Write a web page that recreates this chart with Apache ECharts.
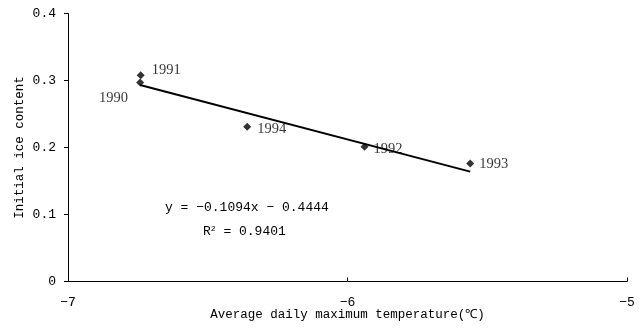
<!DOCTYPE html>
<html><head><meta charset="utf-8">
<script src="https://cdn.jsdelivr.net/npm/echarts@6/dist/echarts.min.js"></script>
<style>html,body{margin:0;padding:0;background:#fff}#c{width:643px;height:328px}</style>
</head><body><div id="c"></div>
<script>
const years = ['1990', '1991', '1994', '1992', '1993'];
const tempX = [-6.742, -6.740, -6.359, -5.939, -5.561];
const iceY = [0.297, 0.308, 0.231, 0.201, 0.176];
const trendX = [-6.742, -5.561];
const trendY = [0.2932, 0.1640];
const xTicks = [-7, -6, -5];
const yTicks = [0, 0.1, 0.2, 0.3, 0.4];
const equationText = 'y = \u22120.1094x \u2212 0.4444';
const r2Text = 'R{sup|2} = 0.9401';

const labelOffsets = {
  '1990': [-45, 16],
  '1991': [7, -5],
  '1994': [6, 2],
  '1992': [5, 2.5],
  '1993': [5, 0.5]
};

const mono = 'Liberation Mono';
const serif = 'Liberation Serif';

const pts = years.map((y, i) => ({
  value: [tempX[i], iceY[i]],
  name: y,
  label: { offset: labelOffsets[y] }
}));

const chart = echarts.init(document.getElementById('c'), null, {renderer: 'canvas'});
chart.setOption({
  animation: false,
  backgroundColor: '#fff',
  grid: { left: 68, right: 16, top: 13.5, bottom: 46.5, containLabel: false, outerBoundsMode: 'none' },
  xAxis: {
    type: 'value', min: -7, max: -5, interval: 1,
    name: 'Average daily maximum temperature(\u2103)',
    nameLocation: 'middle', nameGap: 27, nameMoveOverlap: false,
    nameTextStyle: { fontFamily: mono, fontSize: 12.5, color: '#000' },
    axisLine: { lineStyle: { color: '#000', width: 1 } },
    axisTick: { inside: true, length: 4, lineStyle: { color: '#000' } },
    splitLine: { show: false },
    axisLabel: { fontFamily: mono, fontSize: 13, color: '#000', margin: 15,
      formatter: v => xTicks.includes(v) ? String(v).replace('-', '\u2212') : '' }
  },
  yAxis: {
    type: 'value', min: 0, max: 0.4, interval: 0.1,
    name: 'Initial ice content',
    nameLocation: 'middle', nameGap: 42, nameRotate: 90, nameMoveOverlap: false,
    nameTextStyle: { fontFamily: mono, fontSize: 12.5, color: '#000' },
    axisLine: { show: true, lineStyle: { color: '#000', width: 1 } },
    axisTick: { show: true, inside: false, length: 4, lineStyle: { color: '#000' } },
    splitLine: { show: false },
    axisLabel: { fontFamily: mono, fontSize: 13, color: '#000', margin: 12,
      formatter: v => { const t = yTicks.find(a => Math.abs(a - v) < 1e-9); return t === undefined ? '' : (t === 0 ? '0' : t.toFixed(1)); } }
  },
  series: [
    {
      type: 'line',
      data: trendX.map((x, i) => [x, trendY[i]]),
      symbol: 'none',
      lineStyle: { color: '#000', width: 2 },
      z: 2
    },
    {
      type: 'scatter',
      data: pts,
      symbol: 'diamond',
      symbolSize: 8,
      itemStyle: { color: '#000' },
      label: {
        show: true, position: 'right', distance: 0,
        formatter: p => p.name,
        fontFamily: serif, fontSize: 14.5, color: '#000'
      },
      z: 3
    }
  ],
  graphic: [
    { type: 'text', left: 165, top: 201,
      style: { text: equationText, font: '13px "Liberation Mono"', fill: '#000' } },
    { type: 'text', left: 203, top: 225,
      style: { text: r2Text, font: '13px "Liberation Mono"', fill: '#000',
        rich: { sup: { fontSize: 8, verticalAlign: 'top', padding: [0, 0, 6, 0], fontFamily: 'Liberation Mono' } } } }
  ]
});
</script></body></html>
